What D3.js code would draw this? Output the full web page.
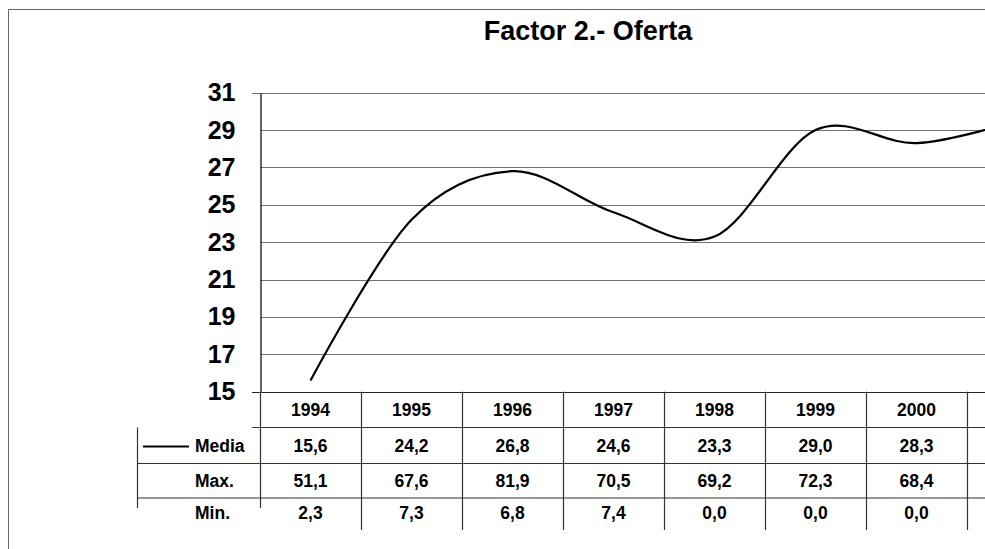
<!DOCTYPE html>
<html>
<head>
<meta charset="utf-8">
<script src="https://cdn.jsdelivr.net/npm/d3@7"></script>
<style>
  html, body { margin: 0; padding: 0; background: #fff; }
  svg { display: block; font-family: "Liberation Sans", Arial, sans-serif; }
</style>
</head>
<body>
<svg id="chart"></svg>
<script>
// chart data (2001 column runs off the right edge of the picture)
var years = ["1994", "1995", "1996", "1997", "1998", "1999", "2000", "2001"];
var media = [15.6, 24.2, 26.8, 24.6, 23.3, 29.0, 28.3, 29.5];
var maxVals = [51.1, 67.6, 81.9, 70.5, 69.2, 72.3, 68.4, null];
var minVals = [2.3, 7.3, 6.8, 7.4, 0.0, 0.0, 0.0, null];
var yTicks = [15, 17, 19, 21, 23, 25, 27, 29, 31];
var rowLabels = ["Media", "Max.", "Min."];

const width = 985;
const height = 549;
const plotLeft = 260;
const colWidth = 101;

const x = d3.scaleBand(years, [plotLeft, plotLeft + colWidth * years.length]);
const y = d3.scaleLinear([15, 31], [391.7, 92.7]);

var svg = d3.select("#chart")
    .attr("width", width)
    .attr("height", height)
    .attr("viewBox", [0, 0, width, height]);

// outer frame (only top and left edges fall inside the picture)
svg.append("path")
    .attr("d", "M8.5,549 V9.5 H" + (width + 5))
    .attr("fill", "none")
    .attr("stroke", "#666")
    .attr("stroke-width", 1);

// title
svg.append("text")
    .attr("x", 588)
    .attr("y", 40)
    .attr("text-anchor", "middle")
    .attr("font-size", 27)
    .attr("font-weight", "bold")
    .text("Factor 2.- Oferta");

// horizontal gridlines
var xEnd = plotLeft + colWidth * years.length;
svg.append("g").selectAll("line")
    .data(yTicks)
    .join("line")
    .attr("x1", function(d) { return (d === 31 || d === 15) ? 252 : plotLeft; })
    .attr("x2", xEnd)
    .attr("y1", function(d) { return Math.round(y(d)) + 0.5; })
    .attr("y2", function(d) { return Math.round(y(d)) + 0.5; })
    .attr("stroke", function(d) { return d === 15 ? "#222" : "#707070"; })
    .attr("stroke-width", 1);

// y axis
svg.append("g")
    .attr("transform", "translate(" + (plotLeft + 0.5) + ",0)")
    .call(d3.axisLeft(y).tickValues(yTicks).tickSize(0).tickPadding(25))
    .call(function(g) {
        g.select(".domain").attr("stroke", "#333").attr("stroke-width", 1.5);
        g.selectAll("text")
            .attr("font-size", 25)
            .attr("font-weight", "bold")
            .attr("font-family", "Liberation Sans, Arial, sans-serif")
            .attr("fill", "#000");
    });

// smoothed line of Media
var line = d3.line()
    .x(function(d, i) { return x(years[i]) + x.bandwidth() / 2; })
    .y(function(d) { return y(d); })
    .curve(d3.curveCardinal.tension(0));

svg.append("path")
    .datum(media)
    .attr("d", line)
    .attr("fill", "none")
    .attr("stroke", "#000")
    .attr("stroke-width", 2.2);

// data table under the plot
var rowBottom = 530;
var tableLeft = 137;
var tbl = svg.append("g").attr("stroke", "#333").attr("stroke-width", 1.2);

// horizontal rules of the table
tbl.append("line").attr("x1", 252).attr("x2", xEnd).attr("y1", 427.5).attr("y2", 427.5);
tbl.append("line").attr("x1", tableLeft).attr("x2", xEnd).attr("y1", 463.5).attr("y2", 463.5);
tbl.append("line").attr("x1", tableLeft).attr("x2", xEnd).attr("y1", 498).attr("y2", 498);

// vertical rules
tbl.append("line").attr("x1", tableLeft + 0.5).attr("x2", tableLeft + 0.5).attr("y1", 427.5).attr("y2", 508);
tbl.selectAll(".col")
    .data(years.slice(1).concat(["end"]))
    .join("line")
    .attr("class", "col")
    .attr("x1", function(d, i) { return plotLeft + colWidth * (i + 1) + 0.5; })
    .attr("x2", function(d, i) { return plotLeft + colWidth * (i + 1) + 0.5; })
    .attr("y1", 391.7)
    .attr("y2", rowBottom);
tbl.append("line").attr("x1", plotLeft + 0.5).attr("x2", plotLeft + 0.5).attr("y1", 391.7).attr("y2", 508);

var txt = svg.append("g")
    .attr("font-size", 17.5)
    .attr("font-weight", "bold")
    .attr("text-anchor", "middle");

function fmt(v) { return v === null ? "" : v.toFixed(1).replace(".", ","); }

// only the columns that fit inside the picture get their table text
var shown = years.filter(function(d) { return x(d) + x.bandwidth() <= width; });

// year header row
txt.selectAll(".yr")
    .data(shown)
    .join("text")
    .attr("class", "yr")
    .attr("x", function(d) { return x(d) + x.bandwidth() / 2; })
    .attr("y", 416)
    .text(function(d) { return d; });

var rows = [media, maxVals, minVals];
var rowText = [451.5, 486.5, 519];
rows.forEach(function(vals, r) {
    txt.append("g").selectAll("text")
        .data(vals.slice(0, shown.length))
        .join("text")
        .attr("x", function(d, i) { return x(years[i]) + x.bandwidth() / 2; })
        .attr("y", rowText[r])
        .text(fmt);
    txt.append("text")
        .attr("x", 195)
        .attr("y", rowText[r])
        .attr("text-anchor", "start")
        .text(rowLabels[r]);
});

// legend key for Media
svg.append("line")
    .attr("x1", 143).attr("x2", 189)
    .attr("y1", 446.5).attr("y2", 446.5)
    .attr("stroke", "#000")
    .attr("stroke-width", 2);
</script>
</body>
</html>
